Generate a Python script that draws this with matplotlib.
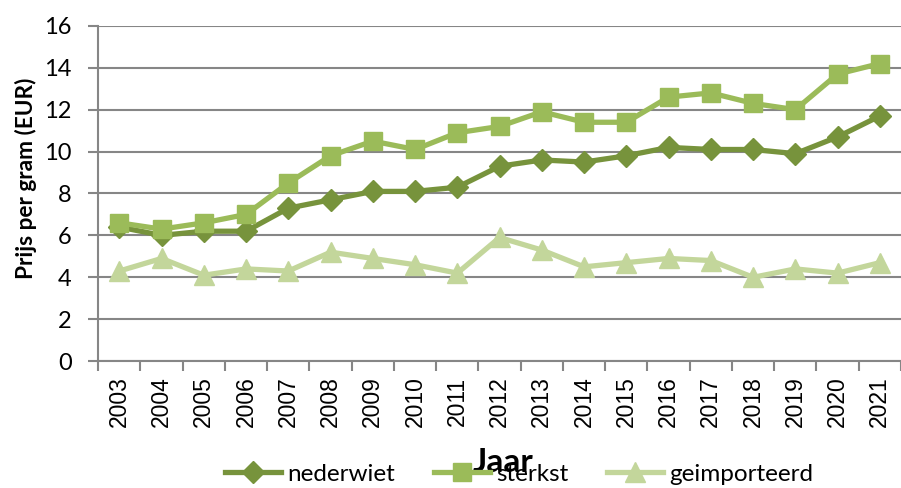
import numpy as np
import matplotlib.pyplot as plt
from matplotlib.ticker import MultipleLocator

jaren = [str(j) for j in range(2003, 2022)]
nederwiet = [6.4, 6.0, 6.2, 6.2, 7.3, 7.7, 8.1, 8.1, 8.3, 9.3, 9.6, 9.5, 9.8, 10.2, 10.1, 10.1, 9.9, 10.7, 11.7]
sterkst = [6.6, 6.3, 6.6, 7.0, 8.5, 9.8, 10.5, 10.1, 10.9, 11.2, 11.9, 11.4, 11.4, 12.6, 12.8, 12.3, 12.0, 13.7, 14.2]
geimporteerd = [4.3, 4.9, 4.1, 4.4, 4.3, 5.2, 4.9, 4.6, 4.2, 5.9, 5.3, 4.5, 4.7, 4.9, 4.8, 4.0, 4.4, 4.2, 4.7]

plt.rcParams['font.family'] = ['Lato', 'DejaVu Sans']

fig = plt.figure(figsize=(9.01, 4.88), dpi=100)
ax = fig.add_axes([0.109, 0.260, 0.891, 0.687])
x = np.arange(len(jaren))

ax.plot(x, nederwiet, color='#77933C', lw=3.8, marker='D', ms=11, label='nederwiet', clip_on=False, zorder=3)
ax.plot(x, sterkst, color='#9BBB59', lw=3.8, marker='s', ms=13.5, label='sterkst', clip_on=False, zorder=3)
ax.plot(x, geimporteerd, color='#C3D69B', lw=3.8, marker='^', ms=15, label='geimporteerd', clip_on=False, zorder=3)

ax.set_xlim(-0.5, len(jaren) - 0.5)
ax.set_ylim(0, 16)
ax.yaxis.set_major_locator(MultipleLocator(2))
ax.set_xticks(x)
ax.set_xticklabels(jaren, rotation=90, family='Liberation Sans', fontsize=16.5)
ax.set_xticks(np.arange(-0.5, len(jaren)), minor=True)
ax.tick_params(axis='x', which='major', length=0, pad=11)
ax.tick_params(axis='x', which='minor', length=7, color='#868686', width=1.5)
ax.tick_params(axis='y', length=7, color='#868686', width=1.5, labelsize=17, pad=12)

ax.grid(axis='y', color='#868686', lw=1.5)
ax.set_axisbelow(True)
for s in ['top', 'right']:
    ax.spines[s].set_visible(False)
for s in ['left', 'bottom']:
    ax.spines[s].set_color('#868686')
    ax.spines[s].set_linewidth(1.5)

fig.text(26 / 901, 1 - 178 / 488, 'Prijs per gram (EUR)', rotation=90, fontsize=16.3,
         fontweight='bold', ha='center', va='center')
fig.text(503 / 901, 1 - 463 / 488, 'Jaar', fontsize=24, fontweight='bold', ha='center', va='center')

fig.legend(loc='center', bbox_to_anchor=(519 / 901, 1 - 474 / 488), ncol=3, frameon=False,
           fontsize=17.5, columnspacing=1.6, handlelength=2.3, handletextpad=0.25,
           borderpad=0, borderaxespad=0)

fig.savefig('out.png', dpi=100)
